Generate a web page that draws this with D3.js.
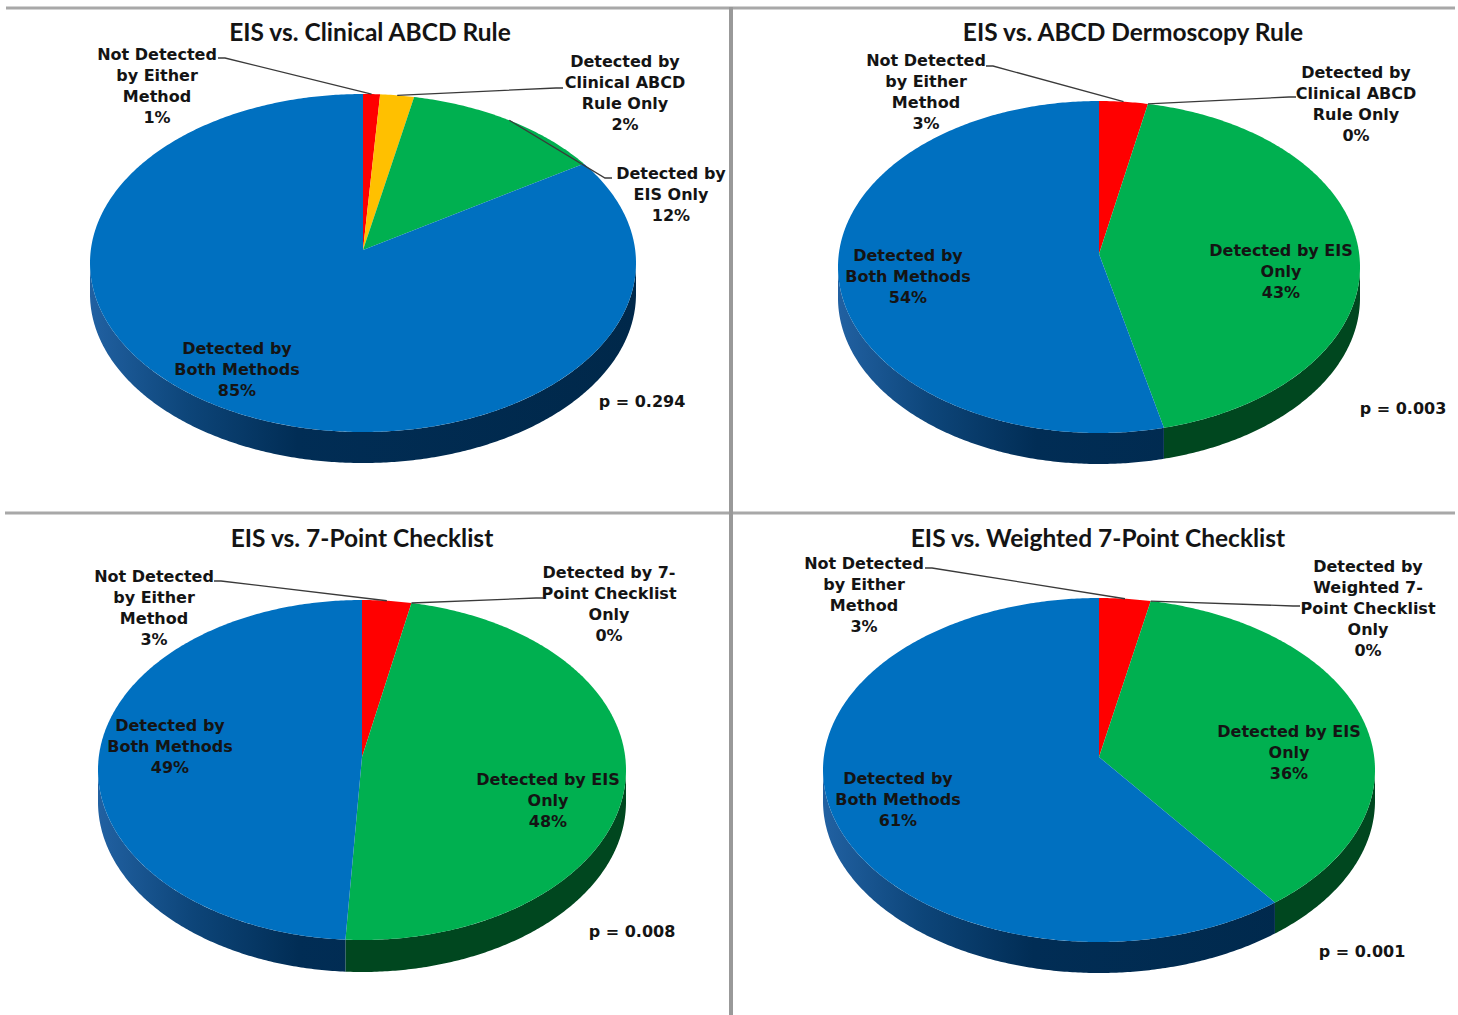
<!DOCTYPE html>
<html>
<head>
<meta charset="utf-8">
<script src="https://cdn.jsdelivr.net/npm/d3@7"></script>
<style>
  html, body { margin: 0; padding: 0; background: #ffffff; }
  svg { display: block; }
  .label { font-family: "DejaVu Sans", sans-serif; font-weight: 700; font-size: 16px; fill: #141414; }
  .title { font-family: Lato, sans-serif; font-weight: 700; font-size: 24.5px; fill: #141414; }
</style>
</head>
<body>
<svg id="chart"></svg>
<script>
const outerWidth = 1458;
const outerHeight = 1015;

// data
const titles = ['EIS vs. Clinical ABCD Rule', 'EIS vs. ABCD Dermoscopy Rule', 'EIS vs. 7-Point Checklist', 'EIS vs. Weighted 7-Point Checklist'];
const categories = ['Not Detected by Either Method', 'Detected by Comparator Only', 'Detected by EIS Only', 'Detected by Both Methods'];
const notDetected = [1, 3, 3, 3];
const comparatorOnly = [2, 0, 0, 0];
const eisOnly = [12, 43, 48, 36];
const bothMethods = [85, 54, 49, 61];
const pValues = ['0.294', '0.003', '0.008', '0.001'];

const notLabel = ['Not Detected', 'by Either', 'Method'];
const comparatorLabels = [
    ['Detected by', 'Clinical ABCD', 'Rule Only'],
    ['Detected by', 'Clinical ABCD', 'Rule Only'],
    ['Detected by 7-', 'Point Checklist', 'Only'],
    ['Detected by', 'Weighted 7-', 'Point Checklist', 'Only'],
];
const eisLabels = [
    ['Detected by', 'EIS Only'],
    ['Detected by EIS', 'Only'],
    ['Detected by EIS', 'Only'],
    ['Detected by EIS', 'Only'],
];
const bothLabel = ['Detected by', 'Both Methods'];

const sliceColors = ['#ff0000', '#ffc000', '#00b050', '#0070c0'];
const sideColors = ['#8a0000', '#8a6800', '#00471f', null];

// layout per panel
const panels = [
    { cx: 363, cy: 263, rx: 273, ry: 169, depth: 31, title: [370, 31], p: [642, 401],
      labelPos: [[157, 54], [625, 61], [671, 173], [237, 348]],
      leaders: [[218, 58, 1], [563, 88, -1], [612, 178, -1]] },
    { cx: 1099, cy: 267, rx: 261, ry: 166, depth: 31, title: [1133, 31], p: [1403, 408],
      labelPos: [[926, 60], [1356, 72], [1281, 250], [908, 255]],
      leaders: [[986, 66, 1], [1296, 97, -1], null] },
    { cx: 362, cy: 770, rx: 264, ry: 170, depth: 32, title: [362, 537], p: [632, 931],
      labelPos: [[154, 576], [609, 572], [548, 779], [170, 725]],
      leaders: [[214, 581, 1], [543, 598, -1], null] },
    { cx: 1099, cy: 770, rx: 276, ry: 172, depth: 31, title: [1098, 537], p: [1362, 951],
      labelPos: [[864, 563], [1368, 566], [1289, 731], [898, 778]],
      leaders: [[925, 568, 1], [1300, 606, -1], null] },
];
const apexOffset = 13;
const lineStep = 21.2;

const svg = d3.select('#chart')
    .attr('width', outerWidth)
    .attr('height', outerHeight)
    .attr('viewBox', [0, 0, outerWidth, outerHeight]);

const defs = svg.append('defs');

// frame lines
const frame = svg.append('g').attr('stroke', '#a8a8a8').attr('fill', 'none');
frame.append('line').attr('x1', 6).attr('x2', 1455).attr('y1', 8).attr('y2', 8).attr('stroke-width', 3);
frame.append('line').attr('x1', 5).attr('x2', 1455).attr('y1', 513).attr('y2', 513).attr('stroke-width', 3);
frame.append('line').attr('x1', 731).attr('x2', 731).attr('y1', 7).attr('y2', 1015).attr('stroke-width', 4).attr('stroke', '#999999');

const pie = d3.pie().sort(null).value(d => d.value);
const line = d3.line();

function proj(p, a, dy = 0) {
    return [p.cx + p.rx * Math.sin(a), p.cy - p.ry * Math.cos(a) + dy];
}

function arcPoints(p, a0, a1, dy = 0) {
    const n = Math.max(2, Math.ceil(Math.abs(a1 - a0) / 0.01));
    return d3.range(n + 1).map(i => proj(p, a0 + (a1 - a0) * i / n, dy));
}

panels.forEach((p, i) => {
    const g = svg.append('g');
    const values = [notDetected[i], comparatorOnly[i], eisOnly[i], bothMethods[i]];
    const slices = pie(values.map((value, k) => ({ value, key: categories[k], k })));

    const gradId = `blueSide${i}`;
    const grad = defs.append('linearGradient')
        .attr('id', gradId)
        .attr('gradientUnits', 'userSpaceOnUse')
        .attr('x1', p.cx - p.rx).attr('x2', p.cx + p.rx)
        .attr('y1', 0).attr('y2', 0);
    grad.selectAll('stop')
        .data([[0, '#2161a2'], [0.18, '#0d4579'], [0.38, '#012d55'], [1, '#00284a']])
        .join('stop')
        .attr('offset', d => d[0])
        .attr('stop-color', d => d[1]);

    // side walls (front half only)
    slices.forEach(s => {
        const a0 = Math.max(s.startAngle, Math.PI / 2);
        const a1 = Math.min(s.endAngle, Math.PI * 1.5);
        if (a1 <= a0) return;
        const pts = arcPoints(p, a0, a1).concat(arcPoints(p, a1, a0, p.depth));
        g.append('path')
            .attr('d', line(pts) + 'Z')
            .attr('fill', s.data.k === 3 ? `url(#${gradId})` : sideColors[s.data.k]);
    });

    // top faces
    const apex = [p.cx, p.cy - apexOffset];
    slices.forEach(s => {
        if (s.endAngle - s.startAngle <= 0) return;
        const pts = [apex].concat(arcPoints(p, s.startAngle, s.endAngle));
        g.append('path')
            .attr('d', line(pts) + 'Z')
            .attr('fill', sliceColors[s.data.k]);
    });

    // leader lines
    p.leaders.forEach((ld, k) => {
        if (!ld) return;
        const s = slices[k];
        const mid = (s.startAngle + s.endAngle) / 2;
        const end = proj(p, mid);
        g.append('path')
            .attr('d', line([[ld[0], ld[1]], [ld[0] + 7 * ld[2], ld[1]], end]))
            .attr('fill', 'none')
            .attr('stroke', '#3a3a3a')
            .attr('stroke-width', 1.3);
    });

    // labels
    const labelLines = [
        notLabel.concat(`${notDetected[i]}%`),
        comparatorLabels[i].concat(`${comparatorOnly[i]}%`),
        eisLabels[i].concat(`${eisOnly[i]}%`),
        bothLabel.concat(`${bothMethods[i]}%`),
    ];
    labelLines.forEach((lines, k) => {
        const [lx, ly] = p.labelPos[k];
        const t = g.append('text')
            .attr('class', 'label')
            .attr('text-anchor', 'middle');
        t.selectAll('tspan')
            .data(lines)
            .join('tspan')
            .attr('x', lx)
            .attr('y', (d, j) => ly + j * lineStep)
            .attr('dominant-baseline', 'central')
            .text(d => d);
    });

    g.append('text')
        .attr('class', 'label')
        .attr('x', p.p[0])
        .attr('y', p.p[1])
        .attr('text-anchor', 'middle')
        .attr('dominant-baseline', 'central')
        .text(`p = ${pValues[i]}`);

    g.append('text')
        .attr('class', 'title')
        .attr('x', p.title[0])
        .attr('y', p.title[1])
        .attr('text-anchor', 'middle')
        .attr('dominant-baseline', 'central')
        .text(titles[i]);
});
</script>
</body>
</html>
